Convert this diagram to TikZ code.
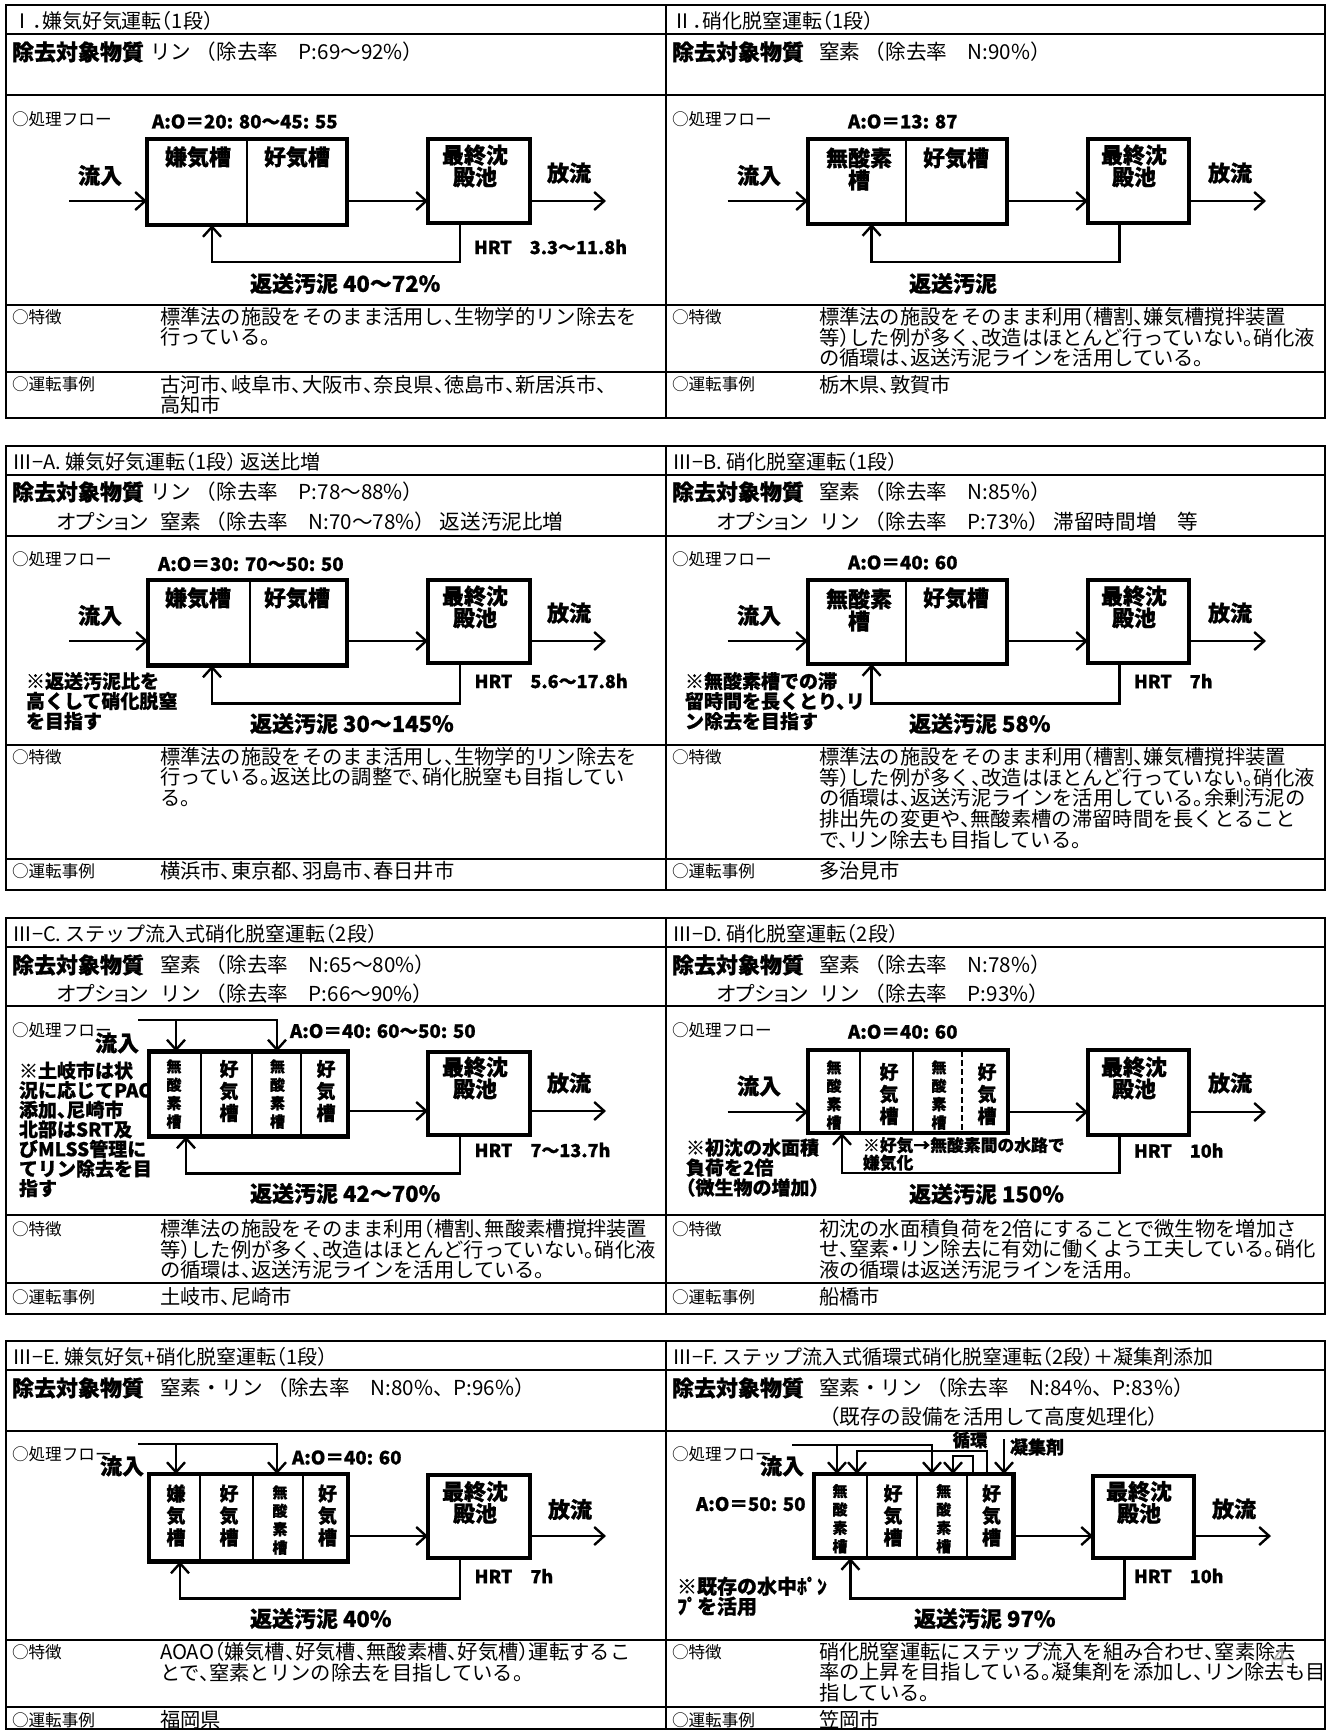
\documentclass[tikz,border=0pt]{standalone}
\usepackage{fontspec}
\setmainfont{Noto Sans CJK JP}[CharacterWidth=AlternateHalf,BoldFeatures={FakeBold=0.8}]
\newfontfamily\fwjp{Noto Sans CJK JP}
\newfontfamily\pwjp{Noto Sans CJK JP}[CharacterWidth=AlternateProportional]
\usetikzlibrary{arrows.meta}
\lineskiplimit=-100pt
\lineskip=0pt
\newcommand\rowframe[6]{%
  \draw[tbl] (6,#1) rectangle (1325,#6);
  \draw[tbl] (666,#1) -- (666,#6);
  \foreach \yy in {#2,#3,#4,#5} \draw[tbl] (6,\yy) -- (1325,\yy);
}
\begin{document}
\begin{tikzpicture}[x=0.5pt,y=-0.5pt,
  every node/.style={inner sep=0pt, outer sep=0pt},
  tbl/.style={line width=1pt},
  tank/.style={draw, rectangle, line width=2.2pt, inner sep=0pt},
  cellline/.style={line width=1pt},
  flow/.style={line width=1.2pt, -{Straight Barb[length=5pt,width=9pt]}},
  ttl/.style={anchor=west, font=\fontsize{10}{12}\selectfont},
  key/.style={anchor=west, font=\bfseries\fontsize{11}{13}\selectfont},
  sub/.style={anchor=west, font=\fwjp\fontsize{10.3}{12}\selectfont},
  opt/.style={anchor=west, font=\pwjp\fontsize{10.3}{12}\selectfont},
  body/.style={anchor=west, font=\fontsize{10.15}{10.4}\selectfont},
  bodyml/.style={anchor=north west, align=left, font=\fontsize{10.15}{10.4}\selectfont},
  tag/.style={anchor=west, font=\fontsize{8.3}{10}\selectfont},
  aolbl/.style={anchor=west, font=\bfseries\fontsize{9.3}{11}\selectfont},
  big/.style={align=center, font=\bfseries\fontsize{11}{11}\selectfont},
  hrt/.style={anchor=west, font=\bfseries\fontsize{9}{11}\selectfont},
  note/.style={anchor=north west, align=left, font=\bfseries\fontsize{9.5}{10}\selectfont},
  vsmall/.style={align=center, font=\bfseries\fontsize{7.5}{9.2}\selectfont},
  vlarge/.style={align=center, font=\bfseries\fontsize{9.5}{11}\selectfont}
]
\useasboundingbox (0,0) rectangle (1328,1731);
\fill[white] (0,0) rectangle (1328,1731);

% ---------- table frames ----------
\rowframe{5}{33.5}{95}{305}{372}{418}
\rowframe{446}{475}{535.6}{745.4}{859}{889.5}
\rowframe{918}{947}{1005.6}{1215}{1283}{1314}
\rowframe{1341}{1370}{1430.6}{1640}{1707}{1729}

% ================= Panel I =================
\node[ttl] (tI) at (12,21) {Ⅰ．嫌気好気運転（1段）};
\node[key] (kI) at (12,52) {除去対象物質};
\node[sub] (sI) at (150,52) {リン （除去率　P:69～92\%）};
\node[tag] (fI) at (12,119) {○処理フロー};
\node[aolbl] (aI) at (152,121.5) {A:O＝20: 80～45: 55};
\node[tank, minimum width=100pt, minimum height=43pt] (b1I) at (247,182) {};
\draw[cellline] (247,139) -- (247,225);
\node[big] (c1I) at (198,157) {嫌気槽};
\node[big] (c2I) at (297,157) {好気槽};
\node[big] (inlI) at (100,175.5) {流入};
\node[tank, minimum width=51pt, minimum height=42pt] (b2I) at (479,181) {};
\node[big] (sdI) at (475,166) {最終沈\\殿池};
\node[big] (hoI) at (569,173) {放流};
\coordinate (inI) at (69,201);
\coordinate (outI) at (606,201);
\coordinate (rrI) at (460,262);
\coordinate (rlI) at (212,262);
\draw[flow] (inI) -- (inI -| b1I.west);
\draw[flow] (b1I.east |- inI) -- (b2I.west |- inI);
\draw[flow] (b2I.east |- outI) -- (outI);
\draw[flow] (rrI |- b2I.south) -- (rrI) -- (rlI) -- (rlI |- b1I.south);
\node[hrt] (hI) at (474,247) {HRT　3.3～11.8h};
\node[big, anchor=west] (rsI) at (250,283.5) {返送汚泥 40～72\%};
\node[tag] (tzI) at (12,317) {○特徴};
\node[bodyml] (zI) at (160,307) {標準法の施設をそのまま活用し、生物学的リン除去を\\行っている。};
\node[tag] (jeI) at (12,384) {○運転事例};
\node[bodyml] (jI) at (160,375) {古河市、岐阜市、大阪市、奈良県、徳島市、新居浜市、\\高知市};

% ================= Panel II =================
\node[ttl] (tII) at (672,21) {Ⅱ．硝化脱窒運転（1段）};
\node[key] (kII) at (672,52) {除去対象物質};
\node[sub] (sII) at (819,52) {窒素 （除去率　N:90\%）};
\node[tag] (fII) at (672,119) {○処理フロー};
\node[aolbl] (aII) at (848,121.5) {A:O＝13: 87};
\node[tank, minimum width=99.5pt, minimum height=42.5pt] (b1II) at (907.5,181.5) {};
\draw[cellline] (905.5,139) -- (905.5,224);
\node[big] (c1II) at (859,169) {無酸素\\槽};
\node[big] (c2II) at (956,158) {好気槽};
\node[big] (inlII) at (759,175.5) {流入};
\node[tank, minimum width=50.5pt, minimum height=42pt] (b2II) at (1138.5,181) {};
\node[big] (sdII) at (1134,166) {最終沈\\殿池};
\node[big] (hoII) at (1230,173) {放流};
\coordinate (inII) at (727.5,201);
\coordinate (outII) at (1266,201);
\coordinate (rrII) at (1119.5,262);
\coordinate (rlII) at (871.6,262);
\draw[flow] (inII) -- (inII -| b1II.west);
\draw[flow] (b1II.east |- inII) -- (b2II.west |- inII);
\draw[flow] (b2II.east |- outII) -- (outII);
\draw[flow] (rrII |- b2II.south) -- (rrII) -- (rlII) -- (rlII |- b1II.south);
\node[big] (rsII) at (953,283.5) {返送汚泥};
\node[tag] (tzII) at (672,317) {○特徴};
\node[bodyml] (zII) at (819,307) {標準法の施設をそのまま利用（槽割、嫌気槽撹拌装置\\等）した例が多く、改造はほとんど行っていない。硝化液\\の循環は、返送汚泥ラインを活用している。};
\node[tag] (jeII) at (672,384) {○運転事例};
\node[body] (jII) at (819,385) {栃木県、敦賀市};

% ================= Panel III-A =================
\node[ttl] (tA) at (12,462) {Ⅲ−A. 嫌気好気運転（1段） 返送比増};
\node[key] (kA) at (12,492) {除去対象物質};
\node[sub] (sA) at (150,492) {リン （除去率　P:78～88\%）};
\node[opt] (oA) at (57,522) {オプション};
\node[sub] (soA) at (160,522) {窒素 （除去率　N:70～78\%） 返送汚泥比増};
\node[tag] (fA) at (12,559) {○処理フロー};
\node[aolbl] (aA) at (158,564) {A:O＝30: 70～50: 50};
\node[tank, minimum width=99.5pt, minimum height=42.75pt] (b1A) at (247.5,622.75) {};
\draw[cellline] (250,580) -- (250,665.5);
\node[big] (c1A) at (198,598) {嫌気槽};
\node[big] (c2A) at (297,598) {好気槽};
\node[big] (inlA) at (100,615.5) {流入};
\node[tank, minimum width=51pt, minimum height=41.5pt] (b2A) at (479,621.5) {};
\node[big] (sdA) at (475,607) {最終沈\\殿池};
\node[big] (hoA) at (569,613) {放流};
\coordinate (inA) at (69,641);
\coordinate (outA) at (606,641);
\coordinate (rrA) at (460,703.4);
\coordinate (rlA) at (212,703.4);
\draw[flow] (inA) -- (inA -| b1A.west);
\draw[flow] (b1A.east |- inA) -- (b2A.west |- inA);
\draw[flow] (b2A.east |- outA) -- (outA);
\draw[flow] (rrA |- b2A.south) -- (rrA) -- (rlA) -- (rlA |- b1A.south);
\node[hrt] (hA) at (474.6,681) {HRT　5.6～17.8h};
\node[note] (nA) at (26,672) {※返送汚泥比を\\高くして硝化脱窒\\を目指す};
\node[big, anchor=west] (rsA) at (250,723.6) {返送汚泥 30～145\%};
\node[tag] (tzA) at (12,757) {○特徴};
\node[bodyml] (zA) at (160,747) {標準法の施設をそのまま活用し、生物学的リン除去を\\行っている。返送比の調整で、硝化脱窒も目指してい\\る。};
\node[tag] (jeA) at (12,871) {○運転事例};
\node[body] (jA) at (160,871) {横浜市、東京都、羽島市、春日井市};

% ================= Panel III-B =================
\node[ttl] (tB) at (672,462) {Ⅲ−B. 硝化脱窒運転（1段）};
\node[key] (kB) at (672,492) {除去対象物質};
\node[sub] (sB) at (819,492) {窒素 （除去率　N:85\%）};
\node[opt] (oB) at (717,522) {オプション};
\node[sub] (soB) at (819,522) {リン （除去率　P:73\%） 滞留時間増　等};
\node[tag] (fB) at (672,559) {○処理フロー};
\node[aolbl] (aB) at (848,562.5) {A:O＝40: 60};
\node[tank, minimum width=99.5pt, minimum height=42pt] (b1B) at (907.5,622) {};
\draw[cellline] (905.5,580) -- (905.5,664);
\node[big] (c1B) at (859,610) {無酸素\\槽};
\node[big] (c2B) at (956,598) {好気槽};
\node[big] (inlB) at (759,615.5) {流入};
\node[tank, minimum width=50.5pt, minimum height=41.5pt] (b2B) at (1138.5,621.5) {};
\node[big] (sdB) at (1134,607) {最終沈\\殿池};
\node[big] (hoB) at (1230,613) {放流};
\coordinate (inB) at (727.5,641);
\coordinate (outB) at (1266,641);
\coordinate (rrB) at (1119.5,703.4);
\coordinate (rlB) at (871.6,703.4);
\draw[flow] (inB) -- (inB -| b1B.west);
\draw[flow] (b1B.east |- inB) -- (b2B.west |- inB);
\draw[flow] (b2B.east |- outB) -- (outB);
\draw[flow] (rrB |- b2B.south) -- (rrB) -- (rlB) -- (rlB |- b1B.south);
\node[hrt] (hB) at (1134,681) {HRT　7h};
\node[note] (nB) at (685,672) {※無酸素槽での滞\\留時間を長くとり、リ\\ン除去を目指す};
\node[big, anchor=west] (rsB) at (909,723.6) {返送汚泥 58\%};
\node[tag] (tzB) at (672,757) {○特徴};
\node[bodyml] (zB) at (819,747) {標準法の施設をそのまま利用（槽割、嫌気槽撹拌装置\\等）した例が多く、改造はほとんど行っていない。硝化液\\の循環は、返送汚泥ラインを活用している。余剰汚泥の\\排出先の変更や、無酸素槽の滞留時間を長くとること\\で、リン除去も目指している。};
\node[tag] (jeB) at (672,871) {○運転事例};
\node[body] (jB) at (819,871) {多治見市};

% ================= Panel III-C =================
\node[ttl] (tC) at (12,933.5) {Ⅲ−C. ステップ流入式硝化脱窒運転（2段）};
\node[key] (kC) at (12,965) {除去対象物質};
\node[sub] (sC) at (160,965) {窒素 （除去率　N:65～80\%）};
\node[opt] (oC) at (57,994) {オプション};
\node[sub] (soC) at (160,994) {リン （除去率　P:66～90\%）};
\node[tag] (fC) at (12,1030) {○処理フロー};
\node[aolbl] (aC) at (290,1031) {A:O＝40: 60～50: 50};
\node[tank, minimum width=99.5pt, minimum height=42.5pt] (b1C) at (248.5,1094) {};
\draw[cellline] (201,1051.5) -- (201,1136.5);
\draw[cellline] (252,1051.5) -- (252,1136.5);
\draw[cellline] (301,1051.5) -- (301,1136.5);
\node[vsmall] (c1C) at (174,1094) {無\\酸\\素\\槽};
\node[vlarge] (c2C) at (229,1091) {好\\気\\槽};
\node[vsmall] (c3C) at (277.5,1094) {無\\酸\\素\\槽};
\node[vlarge] (c4C) at (326,1091) {好\\気\\槽};
\node[big] (inlC) at (117,1043) {流入};
\coordinate (stC) at (138,1020);
\coordinate (k1C) at (176,1020);
\coordinate (k2C) at (277,1020);
\draw[flow] (stC) -- (k2C) -- (k2C |- b1C.north);
\draw[flow] (k1C) -- (k1C |- b1C.north);
\node[tank, minimum width=51pt, minimum height=41.5pt] (b2C) at (479,1093.5) {};
\node[big] (sdC) at (475,1078) {最終沈\\殿池};
\node[big] (hoC) at (569,1083) {放流};
\coordinate (mC) at (380,1111);
\coordinate (outC) at (606,1111);
\coordinate (rrC) at (460,1173.4);
\coordinate (rlC) at (186,1173.4);
\draw[flow] (b1C.east |- mC) -- (b2C.west |- mC);
\draw[flow] (b2C.east |- outC) -- (outC);
\draw[flow] (rrC |- b2C.south) -- (rrC) -- (rlC) -- (rlC |- b1C.south);
\node[hrt] (hC) at (474.6,1150) {HRT　7～13.7h};
\node[note, font=\bfseries\fontsize{9.5}{9.8}\selectfont] (nC) at (19,1061.5) {※土岐市は状\\況に応じてPAC\\添加、尼崎市\\北部はSRT及\\びMLSS管理に\\てリン除去を目\\指す};
\node[big, anchor=west] (rsC) at (250,1193.5) {返送汚泥 42～70\%};
\node[tag] (tzC) at (12,1228.7) {○特徴};
\node[bodyml] (zC) at (160,1219) {標準法の施設をそのまま利用（槽割、無酸素槽撹拌装置\\等）した例が多く、改造はほとんど行っていない。硝化液\\の循環は、返送汚泥ラインを活用している。};
\node[tag] (jeC) at (12,1297) {○運転事例};
\node[body] (jC) at (160,1297) {土岐市、尼崎市};

% ================= Panel III-D =================
\node[ttl] (tD) at (672,933.5) {Ⅲ−D. 硝化脱窒運転（2段）};
\node[key] (kD) at (672,965) {除去対象物質};
\node[sub] (sD) at (819,965) {窒素 （除去率　N:78\%）};
\node[opt] (oD) at (717,994) {オプション};
\node[sub] (soD) at (819,994) {リン （除去率　P:93\%）};
\node[tag] (fD) at (672,1030) {○処理フロー};
\node[aolbl] (aD) at (848,1031.8) {A:O＝40: 60};
\node[tank, minimum width=100pt, minimum height=41.5pt] (b1D) at (908,1091.5) {};
\draw[cellline] (860,1050.75) -- (860,1132.25);
\draw[cellline] (913,1050.75) -- (913,1132.25);
\draw[cellline, dash pattern=on 3pt off 1.6pt] (962,1050.75) -- (962,1132.25);
\node[vsmall] (c1D) at (834,1095) {無\\酸\\素\\槽};
\node[vlarge] (c2D) at (889,1094) {好\\気\\槽};
\node[vsmall] (c3D) at (939,1095) {無\\酸\\素\\槽};
\node[vlarge] (c4D) at (987,1094) {好\\気\\槽};
\node[big] (inlD) at (759,1086) {流入};
\node[tank, minimum width=50.5pt, minimum height=42.5pt] (b2D) at (1138.5,1092.5) {};
\node[big] (sdD) at (1134,1078) {最終沈\\殿池};
\node[big] (hoD) at (1230,1083) {放流};
\coordinate (inD) at (727.5,1112);
\coordinate (outD) at (1266,1112);
\coordinate (rrD) at (1119.5,1173);
\coordinate (rlD) at (842,1173);
\draw[flow] (inD) -- (inD -| b1D.west);
\draw[flow] (b1D.east |- inD) -- (b2D.west |- inD);
\draw[flow] (b2D.east |- outD) -- (outD);
\draw[flow] (rrD |- b2D.south) -- (rrD) -- (rlD) -- (rlD |- b1D.south);
\node[hrt] (hD) at (1134,1150.6) {HRT　10h};
\node[note, font=\bfseries\fontsize{8.4}{8.8}\selectfont] (n2D) at (863,1137) {※好気→無酸素間の水路で\\嫌気化};
\node[note] (nD) at (686,1138.5) {※初沈の水面積\\負荷を2倍\\（微生物の増加）};
\node[big, anchor=west] (rsD) at (909,1194) {返送汚泥 150\%};
\node[tag] (tzD) at (672,1228.7) {○特徴};
\node[bodyml] (zD) at (819,1219) {初沈の水面積負荷を2倍にすることで微生物を増加さ\\せ、窒素・リン除去に有効に働くよう工夫している。硝化\\液の循環は返送汚泥ラインを活用。};
\node[tag] (jeD) at (672,1297) {○運転事例};
\node[body] (jD) at (819,1297) {船橋市};

% ================= Panel III-E =================
\node[ttl] (tE) at (12,1357) {Ⅲ−E. 嫌気好気+硝化脱窒運転（1段）};
\node[key] (kE) at (12,1388) {除去対象物質};
\node[sub] (sE) at (160,1388) {窒素・リン （除去率　N:80\%、P:96\%）};
\node[tag] (fE) at (12,1454) {○処理フロー};
\node[aolbl] (aE) at (292,1457.5) {A:O＝40: 60};
\node[tank, minimum width=99.5pt, minimum height=43.75pt] (b1E) at (248.5,1517.75) {};
\draw[cellline] (200,1474) -- (200,1561.5);
\draw[cellline] (253,1474) -- (253,1561.5);
\draw[cellline] (303,1474) -- (303,1561.5);
\node[vlarge] (c1E) at (176,1515.5) {嫌\\気\\槽};
\node[vlarge] (c2E) at (229,1515.5) {好\\気\\槽};
\node[vsmall] (c3E) at (280,1520) {無\\酸\\素\\槽};
\node[vlarge] (c4E) at (327.5,1515.5) {好\\気\\槽};
\node[big] (inlE) at (122,1466) {流入};
\coordinate (stE) at (138,1444);
\coordinate (k1E) at (176,1444);
\coordinate (k2E) at (277,1444);
\draw[flow] (stE) -- (k2E) -- (k2E |- b1E.north);
\draw[flow] (k1E) -- (k1E |- b1E.north);
\node[tank, minimum width=51pt, minimum height=41.5pt] (b2E) at (479,1516.5) {};
\node[big] (sdE) at (475,1502.5) {最終沈\\殿池};
\node[big] (hoE) at (570,1509.5) {放流};
\coordinate (mE) at (380,1536);
\coordinate (outE) at (606,1536);
\coordinate (rrE) at (460,1598.4);
\coordinate (rlE) at (180,1598.4);
\draw[flow] (b1E.east |- mE) -- (b2E.west |- mE);
\draw[flow] (b2E.east |- outE) -- (outE);
\draw[flow] (rrE |- b2E.south) -- (rrE) -- (rlE) -- (rlE |- b1E.south);
\node[hrt] (hE) at (474.6,1576) {HRT　7h};
\node[big, anchor=west] (rsE) at (250,1618.6) {返送汚泥 40\%};
\node[tag] (tzE) at (12,1652) {○特徴};
\node[bodyml] (zE) at (160,1642) {AOAO（嫌気槽、好気槽、無酸素槽、好気槽）運転するこ\\とで、窒素とリンの除去を目指している。};
\node[tag] (jeE) at (12,1720) {○運転事例};
\node[body] (jE) at (160,1720) {福岡県};

% ================= Panel III-F =================
\node[ttl] (tF) at (672,1357) {Ⅲ−F. ステップ流入式循環式硝化脱窒運転（2段）＋凝集剤添加};
\node[key] (kF) at (672,1388) {除去対象物質};
\node[sub] (sF) at (819,1388) {窒素・リン （除去率　N:84\%、P:83\%）};
\node[sub] (s2F) at (819,1417) {（既存の設備を活用して高度処理化）};
\node[tag] (fF) at (672,1454) {○処理フロー};
\node[aolbl] (aF) at (696,1504) {A:O＝50: 50};
\node[tank, minimum width=99.8pt, minimum height=42pt] (b1F) at (913.8,1516) {};
\draw[cellline] (867,1474) -- (867,1558);
\draw[cellline] (917,1474) -- (917,1558);
\draw[cellline] (967,1474) -- (967,1558);
\node[vsmall] (c1F) at (840,1518.7) {無\\酸\\素\\槽};
\node[vlarge] (c2F) at (893,1515.5) {好\\気\\槽};
\node[vsmall] (c3F) at (943.7,1518.7) {無\\酸\\素\\槽};
\node[vlarge] (c4F) at (991.5,1515.5) {好\\気\\槽};
\node[big] (inlF) at (782,1466) {流入};
\coordinate (stF) at (792,1445);
\coordinate (k1F) at (837,1445);
\coordinate (k2F) at (932,1445);
\draw[flow] (stF) -- (k2F) -- (k2F |- b1F.north);
\draw[flow] (k1F) -- (k1F |- b1F.north);
\coordinate (oaF) at (987,1451);
\coordinate (obF) at (857,1451);
\draw[flow] (oaF |- b1F.north) -- (oaF) -- (obF) -- (obF |- b1F.north);
\coordinate (iaF) at (973,1456);
\coordinate (ibF) at (953,1456);
\draw[flow] (iaF |- b1F.north) -- (iaF) -- (ibF) -- (ibF |- b1F.north);
\coordinate (gF) at (1004,1439);
\draw[flow] (gF) -- (gF |- b1F.north);
\node[font=\bfseries\fontsize{8.7}{10}\selectfont] (lcF) at (970,1440) {循環};
\node[anchor=west, font=\bfseries\fontsize{9}{10}\selectfont] (lgF) at (1010,1447) {凝集剤};
\node[tank, minimum width=50.35pt, minimum height=41pt] (b2F) at (1143.4,1517) {};
\node[big] (sdF) at (1139,1502.5) {最終沈\\殿池};
\node[big] (hoF) at (1234,1509) {放流};
\coordinate (mF) at (1050,1536);
\coordinate (outF) at (1271,1536);
\coordinate (rrF) at (1124.6,1598.4);
\coordinate (rlF) at (850.4,1598.4);
\draw[flow] (b1F.east |- mF) -- (b2F.west |- mF);
\draw[flow] (b2F.east |- outF) -- (outF);
\draw[flow] (rrF |- b2F.south) -- (rrF) -- (rlF) -- (rlF |- b1F.south);
\node[hrt] (hF) at (1134,1576) {HRT　10h};
\node[note, font=\bfseries\fontsize{10}{10}\selectfont] (nF) at (677,1576.7) {※既存の水中ﾎﾟﾝ\\ﾌﾟを活用};
\node[big, anchor=west] (rsF) at (914,1618.6) {返送汚泥 97\%};
\node[tag] (tzF) at (672,1652) {○特徴};
\node[bodyml] (zF) at (819,1642) {硝化脱窒運転にステップ流入を組み合わせ、窒素除去\\率の上昇を目指している。凝集剤を添加し、リン除去も目\\指している。};
\node[text=black!35, font=\fontsize{12}{12}\selectfont] (pg) at (1280,1657) {4};
\node[tag] (jeF) at (672,1720) {○運転事例};
\node[body] (jF) at (819,1720) {笠岡市};
\end{tikzpicture}
\end{document}
